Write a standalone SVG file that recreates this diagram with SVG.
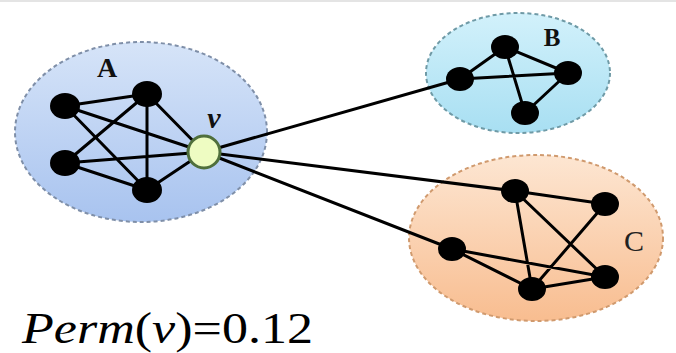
<svg xmlns="http://www.w3.org/2000/svg" width="676" height="353" viewBox="0 0 676 353">
<defs>
<linearGradient id="gA" x1="0" y1="0" x2="0" y2="1"><stop offset="0" stop-color="#d6e4f8"/><stop offset="1" stop-color="#a8c3ef"/></linearGradient>
<linearGradient id="gB" x1="0" y1="0" x2="0" y2="1"><stop offset="0" stop-color="#d2f1fb"/><stop offset="1" stop-color="#a8dff2"/></linearGradient>
<linearGradient id="gC" x1="0" y1="0" x2="0" y2="1"><stop offset="0" stop-color="#fde6d2"/><stop offset="1" stop-color="#f8bd90"/></linearGradient>
<style>
.cl{stroke-width:2;stroke-dasharray:4 3}
.e{stroke:#000;stroke-width:3;fill:none;stroke-linecap:round}
.n{fill:#000}
.sf{font-family:'Liberation Serif','Times New Roman',serif}
.lb{font-weight:bold;fill:#111;text-anchor:middle}
</style>
</defs>
<rect x="0" y="0" width="676" height="353" fill="#fff"/>
<rect x="0" y="0" width="676" height="2" fill="#e4e4e4"/>
<g id="clusterA">
<ellipse cx="141" cy="132" rx="126" ry="90" fill="url(#gA)" stroke="#7f8fa8" class="cl"/>
<text class="sf lb" x="107" y="77" font-size="28">A</text>
</g>
<g id="clusterB">
<ellipse cx="518" cy="73" rx="92" ry="60" fill="url(#gB)" stroke="#6f9aa6" class="cl"/>
<text class="sf lb" x="552" y="46" font-size="25">B</text>
</g>
<g id="clusterC">
<ellipse cx="536" cy="238" rx="127" ry="83" fill="url(#gC)" stroke="#d09a6e" class="cl"/>
<text class="sf" x="634" y="251" font-size="30" fill="#222" text-anchor="middle">C</text>
</g>
<g id="connectors">
<path class="e" d="M65,106 L147,94 M65,106 L147,190 M65,106 L204,152 M147,94 L65,163 M147,94 L147,190 M147,94 L204,152 M65,163 L147,190 M65,163 L204,152 M147,190 L204,152"/>
<path class="e" d="M204,152 L460,79 M204,152 L515,191 M204,152 L452,249"/>
<path class="e" d="M505,47 L460,79 M505,47 L568,73 M505,47 L525,113 M460,79 L568,73 M568,73 L525,113"/>
<path class="e" d="M515,191 L605,204 M515,191 L532,289 M515,191 L605,277 M605,204 L532,289 M452,249 L532,289 M452,249 L605,277 M532,289 L605,277"/>
</g>
<g id="nodesA">
<ellipse class="n" cx="65" cy="106" rx="15" ry="13"/>
<ellipse class="n" cx="147" cy="94" rx="15" ry="13"/>
<ellipse class="n" cx="65" cy="163" rx="15" ry="13"/>
<ellipse class="n" cx="147" cy="190" rx="15" ry="13"/>
</g>
<g id="v">
<circle cx="204" cy="152" r="16" fill="#eefcc2" stroke="#4f6f3c" stroke-width="3"/>
<text class="sf" x="214" y="128" font-weight="bold" font-style="italic" font-size="30" fill="#111" text-anchor="middle">v</text>
</g>
<g id="nodesB">
<ellipse class="n" cx="505" cy="47" rx="14" ry="12"/>
<ellipse class="n" cx="460" cy="79" rx="14" ry="12"/>
<ellipse class="n" cx="568" cy="73" rx="14" ry="12"/>
<ellipse class="n" cx="525" cy="113" rx="14" ry="12"/>
</g>
<g id="nodesC">
<ellipse class="n" cx="515" cy="191" rx="14" ry="12"/>
<ellipse class="n" cx="605" cy="204" rx="14" ry="12"/>
<ellipse class="n" cx="452" cy="249" rx="14" ry="12"/>
<ellipse class="n" cx="532" cy="289" rx="14" ry="12"/>
<ellipse class="n" cx="605" cy="277" rx="14" ry="12"/>
</g>
<text class="sf" x="22" y="343" font-size="44" fill="#000" textLength="291" lengthAdjust="spacingAndGlyphs"><tspan font-style="italic">Perm</tspan>(<tspan font-style="italic">v</tspan>)=0.12</text>
</svg>
